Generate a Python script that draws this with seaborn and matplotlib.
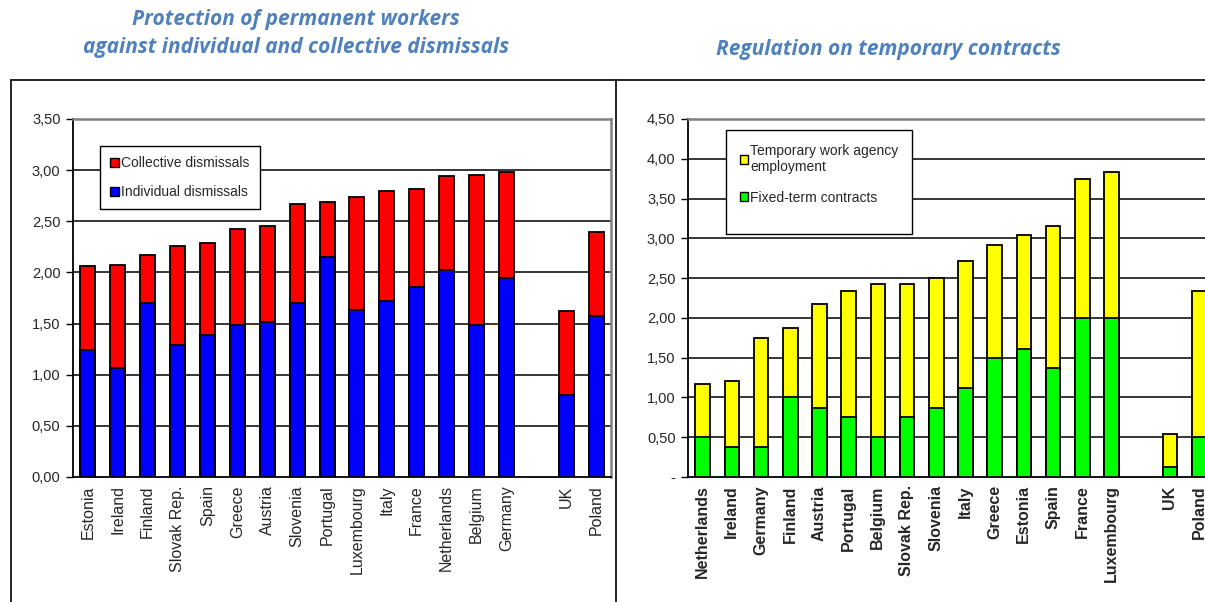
import pandas as pd
import matplotlib
matplotlib.use("Agg")
import matplotlib.pyplot as plt
import seaborn as sns
from matplotlib.patches import Patch, Rectangle
from matplotlib.lines import Line2D
from matplotlib.ticker import FuncFormatter, FixedLocator

# Protection of permanent workers
perm_countries = ["Estonia", "Ireland", "Finland", "Slovak Rep.", "Spain", "Greece",
                  "Austria", "Slovenia", "Portugal", "Luxembourg", "Italy", "France",
                  "Netherlands", "Belgium", "Germany", "UK", "Poland"]
perm_individual = [1.24, 1.07, 1.70, 1.29, 1.39, 1.49, 1.52, 1.70, 2.15, 1.63, 1.72,
                   1.86, 2.02, 1.49, 1.95, 0.80, 1.57]
perm_collective = [0.82, 1.00, 0.47, 0.97, 0.90, 0.93, 0.93, 0.97, 0.54, 1.11, 1.08,
                   0.96, 0.92, 1.46, 1.03, 0.82, 0.83]

# Regulation on temporary contracts
temp_countries = ["Netherlands", "Ireland", "Germany", "Finland", "Austria", "Portugal",
                  "Belgium", "Slovak Rep.", "Slovenia", "Italy", "Greece", "Estonia",
                  "Spain", "France", "Luxembourg", "UK", "Poland"]
temp_fixed = [0.50, 0.38, 0.38, 1.00, 0.87, 0.75, 0.50, 0.75, 0.87, 1.12, 1.50, 1.61,
              1.37, 2.00, 2.00, 0.13, 0.50]
temp_agency = [0.67, 0.83, 1.37, 0.87, 1.30, 1.59, 1.92, 1.67, 1.63, 1.59, 1.41, 1.43,
               1.79, 1.75, 1.84, 0.41, 1.84]

sns.set_style("white")
plt.rcParams['font.family'] = ['Liberation Sans', 'DejaVu Sans']

W, H = 1205, 602
fig = plt.figure(figsize=(W / 100, H / 100), dpi=100)

title_color = "#4F81BD"


def stacked(ax, countries, bottom, top, c_bottom, c_top, ymax, zero_label, bold):
    df = pd.DataFrame({"country": countries, "bottom": bottom, "top": top})
    df["total"] = df["bottom"] + df["top"]
    # empty slot between the main group and UK / Poland
    order = countries[:15] + [""] + countries[15:]
    sns.barplot(data=df, x="country", y="total", order=order, color=c_top,
                saturation=1, width=0.5, edgecolor="black", linewidth=1.3, ax=ax, zorder=3)
    sns.barplot(data=df, x="country", y="bottom", order=order, color=c_bottom,
                saturation=1, width=0.5, edgecolor="black", linewidth=1.3, ax=ax, zorder=3)
    ax.set_xlim(-0.5, len(order) - 0.5)
    ax.set_ylim(0, ymax)
    ax.set_xlabel("")
    ax.set_ylabel("")
    yt = [i * 0.5 for i in range(int(ymax / 0.5) + 1)]
    ax.set_yticks(yt)
    ax.yaxis.set_major_formatter(FuncFormatter(
        lambda v, p: zero_label if abs(v) < 1e-9 else f"{v:.2f}".replace(".", ",")))
    for v in yt[1:]:
        ax.axhline(v, color="black", linewidth=1.1, zorder=1)
    ax.set_xticks(range(len(order)))
    ax.set_xticklabels(order, rotation=90, fontsize=11.5,
                       fontweight="bold" if bold else "normal")
    ax.xaxis.set_minor_locator(FixedLocator([i - 0.5 for i in range(len(order) + 1)]))
    ax.tick_params(axis="x", which="major", length=0, pad=6)
    ax.tick_params(axis="x", which="minor", length=5, width=1, color="black", direction="out")
    ax.tick_params(axis="y", length=5, width=1, color="black", direction="out",
                   labelsize=10.5, left=True, pad=4)
    for s in ["left", "bottom"]:
        ax.spines[s].set_color("black")
        ax.spines[s].set_linewidth(1.3)
    for s in ["top", "right"]:
        ax.spines[s].set_color("#808080")
        ax.spines[s].set_linewidth(1.8)


leg_kw = dict(loc="upper left", fontsize=10, fancybox=False, framealpha=1,
              edgecolor="black", handlelength=0.6, handleheight=0.6, handletextpad=0.15,
              borderaxespad=0)

# left chart
ax1 = fig.add_axes([73 / W, 1 - 477 / H, 538 / W, 358 / H])
stacked(ax1, perm_countries, perm_individual, perm_collective, "#0000FF", "#FF0000",
        3.5, "0,00", False)
h1 = [Patch(facecolor="#FF0000", edgecolor="black", label="Collective dismissals"),
      Patch(facecolor="#0000FF", edgecolor="black", label="Individual dismissals")]
leg1 = ax1.legend(handles=h1, bbox_to_anchor=(27 / 538, 1 - 27 / 358), frameon=True,
                  labelspacing=1.05, borderpad=0.75, **leg_kw)
leg1.get_frame().set_linewidth(1.0)
leg1.set_zorder(5)

# right chart
ax2 = fig.add_axes([688 / W, 1 - 477 / H, 525.6 / W, 358 / H])
stacked(ax2, temp_countries, temp_fixed, temp_agency, "#00FF00", "#FFFF00",
        4.5, "-", True)
h2 = [Patch(facecolor="#FFFF00", edgecolor="black",
            label="Temporary work agency\nemployment"),
      Patch(facecolor="#00FF00", edgecolor="black", label="Fixed-term contracts")]
leg2 = ax2.legend(handles=h2, bbox_to_anchor=(38 / 525.6, 1 - 11 / 358), frameon=False,
                  labelspacing=1.2, borderpad=1.0, **leg_kw)
leg2.set_zorder(6)
# legend box of the right chart has extra room below the entries
box = Rectangle((726 / W, 1 - 234 / H), 186 / W, 104 / H, transform=fig.transFigure,
                facecolor="white", edgecolor="black", linewidth=1.0, zorder=5,
                clip_on=False)
ax2.add_artist(box)

# panel frames
for x0, y0, x1, y1 in [(11, 80, 11, 602), (11, 80, W, 80), (616, 80, 616, 602)]:
    fig.add_artist(Line2D([x0 / W, x1 / W], [1 - y0 / H, 1 - y1 / H],
                          color="black", linewidth=1.2))

# titles
tkw = dict(color=title_color, fontsize=15, fontweight="bold", fontstyle="italic",
           family=["Open Sans", "DejaVu Sans"], ha="center", va="center")
fig.text(296 / W, 1 - 20 / H, "Protection of permanent workers", **tkw)
fig.text(296 / W, 1 - 48 / H, "against individual and collective dismissals", **tkw)
fig.text(888 / W, 1 - 50 / H, "Regulation on temporary contracts", **tkw)

fig.savefig("out.png", dpi=100)
